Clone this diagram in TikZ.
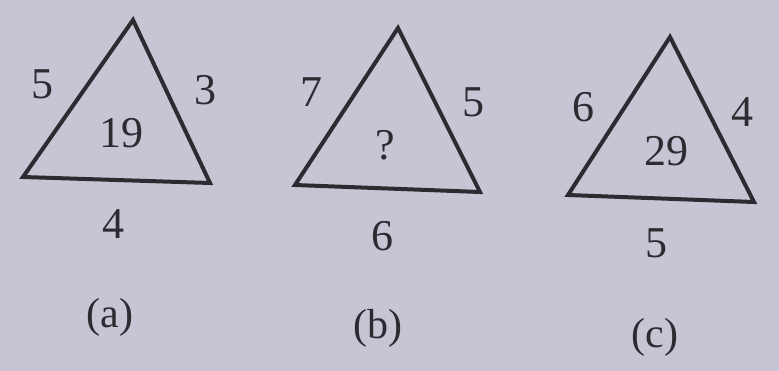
\documentclass[tikz,border=0pt]{standalone}
\usepackage{fontspec}
\setmainfont{Liberation Serif}
\definecolor{paper}{RGB}{199,197,211}
\definecolor{ink}{RGB}{45,42,50}
\begin{document}
\begin{tikzpicture}[
        x=1pt,
        y=-1pt,
        every node/.style={font=\fontsize{44}{46}\selectfont, text=ink, inner sep=0pt},
        side/.style={draw=ink, line width=4pt, line join=miter},
        caption/.style={font=\fontsize{42}{44}\selectfont}
    ]
        % Background
        \fill[paper] (0,0) rectangle (779,371);

        % Triangle (a)
        \coordinate (a1) at (133,20);
        \coordinate (a2) at (23,177);
        \coordinate (a3) at (210,183);
        \draw[side] (a1) -- (a2) -- (a3) -- cycle;
        \node (aleft) at (42,84){5};
        \node (aright) at (205,90){3};
        \node (amid) at (121,133){19};
        \node (abase) at (113,224){4};
        \node[caption] (acap) at (110,317){(a)};

        % Triangle (b)
        \coordinate (b1) at (398,28);
        \coordinate (b2) at (295,185);
        \coordinate (b3) at (480,192);
        \draw[side] (b1) -- (b2) -- (b3) -- cycle;
        \node (bleft) at (311,92){7};
        \node (bright) at (473,102){5};
        \node (bmid) at (385,145){?};
        \node (bbase) at (382,236){6};
        \node[caption] (bcap) at (378,328){(b)};

        % Triangle (c)
        \coordinate (c1) at (670,37);
        \coordinate (c2) at (568,195);
        \coordinate (c3) at (754,202);
        \draw[side] (c1) -- (c2) -- (c3) -- cycle;
        \node (cleft) at (583,107){6};
        \node (cright) at (742,112){4};
        \node (cmid) at (666,151){29};
        \node (cbase) at (656,243){5};
        \node[caption] (ccap) at (655,337){(c)};
    \end{tikzpicture}
\end{document}
